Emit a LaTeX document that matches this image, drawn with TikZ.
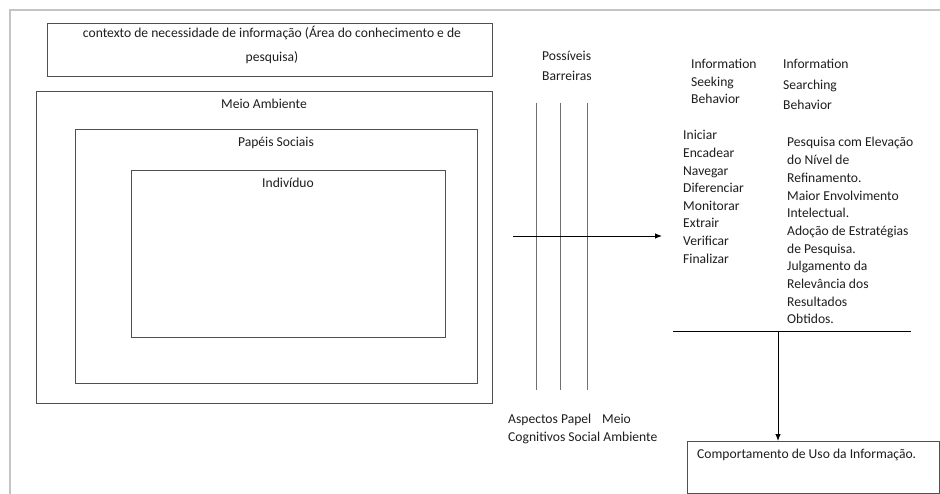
\documentclass[tikz,border=0pt]{standalone}
\usepackage{fontspec}
\setmainfont{Carlito}
\usetikzlibrary{arrows.meta}
\definecolor{ink}{HTML}{1E1E1E}
\definecolor{frame}{HTML}{C4C4C4}
\definecolor{boxline}{HTML}{505050}
\definecolor{barrier}{HTML}{707070}
\tikzset{
  txt/.style={inner sep=0pt, text=ink, text height=9pt, text depth=3pt,
              font=\fontsize{13.6}{16}\selectfont},
  frameline/.style={draw=frame, line width=1.8pt},
  panel/.style={draw=boxline, line width=1.1pt, inner sep=0pt, anchor=north west},
  barline/.style={draw=barrier, line width=0.9pt},
  arr/.style={draw=black, line width=0.9pt, -{Latex[length=7pt,width=5.5pt]}},
  plain/.style={draw=black, line width=0.9pt}
}
\begin{document}
\begin{tikzpicture}[x=1pt, y=-1pt]
\useasboundingbox (0,0) rectangle (940,494);
\fill[white] (0,0) rectangle (940,494);

% page frame
\coordinate (fTL) at (10,10);
\coordinate (fTR) at (940,10);
\coordinate (fBL) at (10,494);
\draw[frameline] (fTR) -- (fTL) -- (fBL);

% context box
\node[panel, minimum width=445pt, minimum height=53pt] (ctx) at (47,23) {};
\node[txt] (ctx1) at (272,35) {contexto de necessidade de informação (Área do conhecimento e de};
\node[txt] (ctx2) at (272,59) {pesquisa)};

% nested environment boxes
\node[panel, minimum width=456pt, minimum height=312pt] (meio) at (36,91) {};
\node[txt] (meiolbl) at (264,106) {Meio Ambiente};
\node[panel, minimum width=402pt, minimum height=254pt] (papeis) at (75,129) {};
\node[txt] (papeislbl) at (276,144) {Papéis Sociais};
\node[panel, minimum width=314pt, minimum height=167pt] (indiv) at (131,170) {};
\node[txt] (indivlbl) at (288,185) {Indivíduo};

% barriers
\node[txt, anchor=west] (bar1) at (542,58) {Possíveis};
\node[txt, anchor=west] (bar2) at (542,78) {Barreiras};
\foreach \x [count=\i] in {536,560,587} {
  \coordinate (bt\i) at (\x,103);
  \coordinate (bb\i) at (\x,390);
  \draw[barline] (bt\i) -- (bb\i);
}
\node[txt, anchor=west] (asp1) at (508,420) {Aspectos Papel};
\node[txt, anchor=west] (asp1b) at (602,420) {Meio};
\node[txt, anchor=west] (asp2) at (508,438) {Cognitivos Social Ambiente};

% main flow arrow
\coordinate (flowA) at (513,236);
\coordinate (flowB) at (662,236);
\draw[arr] (flowA) -- (flowB);

% behaviour headings
\foreach \t [count=\i] in {Information, Seeking, Behavior}
  \node[txt, anchor=west] (seekh\i) at (691,{66+17.5*(\i-1)}) {\t};
\foreach \t [count=\i] in {Information, Searching, Behavior}
  \node[txt, anchor=west] (searchh\i) at (783,{66+20.5*(\i-1)}) {\t};

% seeking stages
\foreach \t [count=\i] in {Iniciar, Encadear, Navegar, Diferenciar, Monitorar, Extrair, Verificar, Finalizar}
  \node[txt, anchor=west] (stage\i) at (683,{137+17.6*(\i-1)}) {\t};

% searching features
\foreach \t [count=\i] in {Pesquisa com Elevação, do Nível de, Refinamento., Maior Envolvimento, Intelectual., Adoção de Estratégias, de Pesquisa., Julgamento da, Relevância dos, Resultados, Obtidos.}
  \node[txt, anchor=west] (feat\i) at (787,{144+17.7*(\i-1)}) {\t};

% output line and arrow
\coordinate (lineL) at (673,331);
\coordinate (lineR) at (911,331);
\draw[plain] (lineL) -- (lineR);
\coordinate (split) at (778,331);
\node[panel, minimum width=252pt, minimum height=52pt] (uso) at (687,441) {};
\node[txt, anchor=west] (usolbl) at (697,455) {Comportamento de Uso da Informação.};
\draw[arr] (split) -- (split |- uso.north);
\end{tikzpicture}
\end{document}
